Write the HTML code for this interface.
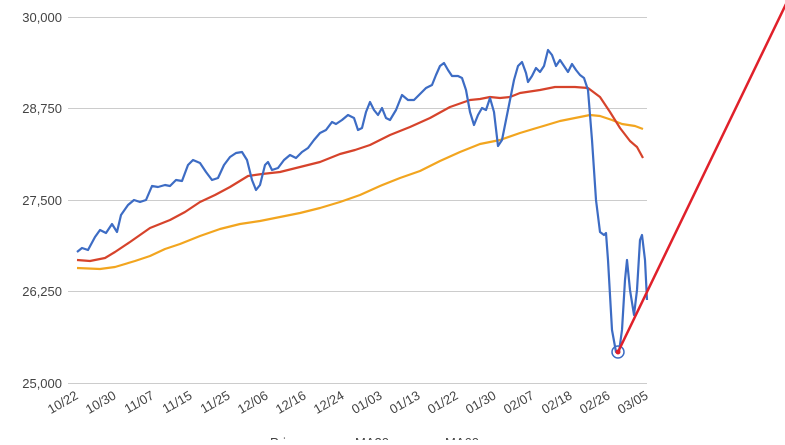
<!DOCTYPE html>
<html><head><meta charset="utf-8"><style>
body{margin:0;background:#fff;width:785px;height:440px;overflow:hidden}
svg{font-family:"Liberation Sans",Arial,sans-serif}
</style></head><body>
<svg width="785" height="440" viewBox="0 0 785 440">
<g stroke="#ccc" stroke-width="1">
<line x1="68" y1="17.5" x2="647" y2="17.5"/>
<line x1="68" y1="108.5" x2="647" y2="108.5"/>
<line x1="68" y1="200.5" x2="647" y2="200.5"/>
<line x1="68" y1="291.5" x2="647" y2="291.5"/>
<line x1="68" y1="383.5" x2="647" y2="383.5"/>
</g>
<g font-size="13" fill="#444" text-anchor="end">
<text x="62" y="22">30,000</text>
<text x="62" y="113">28,750</text>
<text x="62" y="205">27,500</text>
<text x="62" y="296">26,250</text>
<text x="62" y="388">25,000</text>
</g>
<g font-size="13" fill="#444" text-anchor="end">
<text transform="translate(79,398) rotate(-30)">10/22</text>
<text transform="translate(117,398) rotate(-30)">10/30</text>
<text transform="translate(155,398) rotate(-30)">11/07</text>
<text transform="translate(193,398) rotate(-30)">11/15</text>
<text transform="translate(231,398) rotate(-30)">11/25</text>
<text transform="translate(269,398) rotate(-30)">12/06</text>
<text transform="translate(307,398) rotate(-30)">12/16</text>
<text transform="translate(345,398) rotate(-30)">12/24</text>
<text transform="translate(383,398) rotate(-30)">01/03</text>
<text transform="translate(421,398) rotate(-30)">01/13</text>
<text transform="translate(459,398) rotate(-30)">01/22</text>
<text transform="translate(497,398) rotate(-30)">01/30</text>
<text transform="translate(535,398) rotate(-30)">02/07</text>
<text transform="translate(573,398) rotate(-30)">02/18</text>
<text transform="translate(611,398) rotate(-30)">02/26</text>
<text transform="translate(649,398) rotate(-30)">03/05</text>
</g>
<g font-size="13" fill="#444">
<text x="270" y="447">Price</text>
<text x="355" y="447">MA20</text>
<text x="445" y="447">MA60</text>
</g>
<polyline fill="none" stroke="#f2a51f" stroke-width="2.2" stroke-linejoin="round" points="77,268 100,269 115,267 135,261 150,256 165,249 180,244 200,236 220,229 240,224 260,221 280,217 300,213 320,208 340,202 360,195 380,186 400,178 420,171 440,161 460,152 480,144 500,140 520,133 540,127 560,121 580,117 590,115 600,116 612,120 622,124 635,126 643,129"/>
<polyline fill="none" stroke="#d6432b" stroke-width="2.2" stroke-linejoin="round" points="77,260 90,261 105,258 115,252 130,242 150,228 170,220 185,212 200,202 215,195 230,187 248,176 262,174 280,172 300,167 320,162 340,154 355,150 370,145 390,135 410,127 430,118 450,107 470,100 480,99 490,97 500,98 510,97 520,93 540,90 555,87 575,87 588,88 600,97 610,112 620,128 630,141 637,147 643,158"/>
<polyline fill="none" stroke="#3d6cc4" stroke-width="2.2" stroke-linejoin="round" points="77,252 82,248 88,250 95,237 100,230 106,233 112,224 117,232 121,215 128,205 134,200 140,202 146,200 152,186 158,187 165,185 170,186 176,180 182,181 188,165 193,160 200,163 206,172 212,180 218,178 224,165 230,157 236,153 242,152 247,160 252,180 256,190 260,185 265,165 268,162 272,170 278,168 284,160 290,155 296,158 302,152 308,148 314,140 320,133 326,130 332,122 336,124 342,120 348,115 354,118 358,130 362,128 366,112 370,102 374,110 378,115 382,108 386,118 390,120 396,110 402,95 408,100 414,100 420,94 426,88 432,85 436,75 440,66 444,63 448,70 452,76 458,76 462,78 466,90 470,112 474,125 478,115 482,108 486,110 490,98 494,112 498,146 502,140 506,120 510,100 514,80 518,66 522,62 526,73 528,82 532,76 536,68 540,72 544,66 548,50 552,55 556,66 560,60 564,66 568,72 572,64 576,70 580,75 584,78 588,90 592,140 596,200 600,232 604,235 606,233 608,260 612,330 616,352 619,352 622,330 625,280 627,260 630,290 634,315 637,290 640,240 642,235 645,260 647,300"/>
<circle cx="618" cy="352" r="6" fill="none" stroke="#3d6cc4" stroke-width="1.5"/>
<line x1="618" y1="352" x2="786" y2="4" stroke="#e0202a" stroke-width="2.5"/>
<circle cx="618" cy="352" r="2.5" fill="#e0202a"/>
</svg>
</body></html>
